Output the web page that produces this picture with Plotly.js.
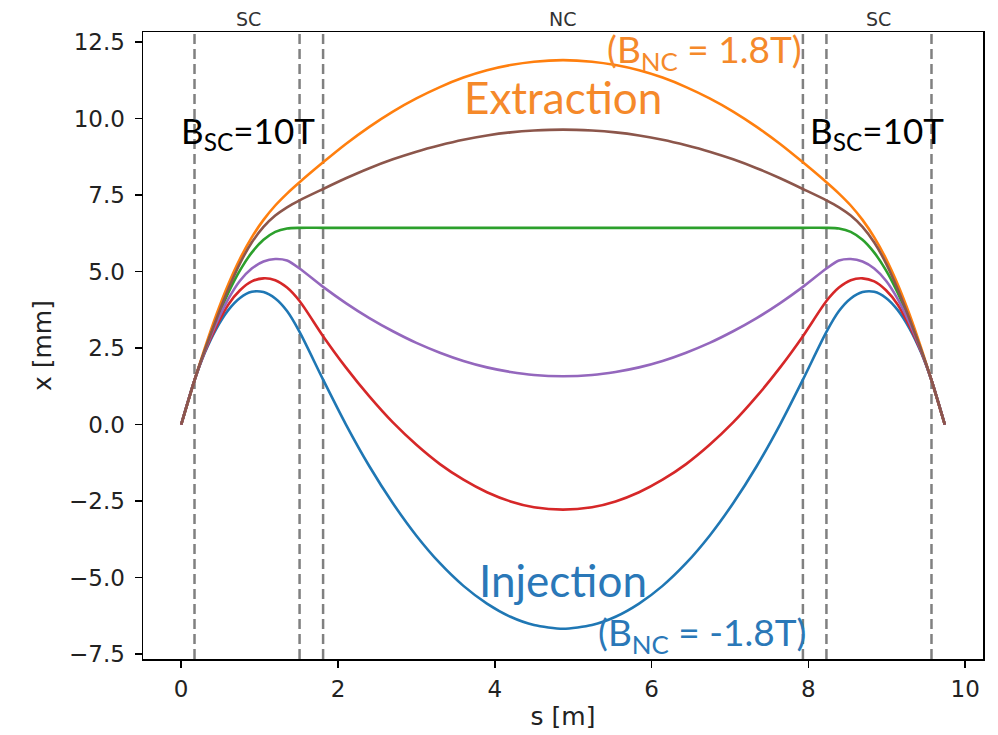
<!DOCTYPE html>
<html>
<head>
<meta charset="utf-8">
<script src="https://cdn.plot.ly/plotly-3.0.1.min.js"></script>
<style>html,body{margin:0;padding:0;background:#fff;}#chart{width:998px;height:735px;}</style>
</head>
<body>
<div id="chart"></div>
<script>
// s positions along the straight section [m]
const s_m = [0, 0.17, 0.3, 0.45, 0.6, 0.75, 0.9, 1.05, 1.2, 1.35, 1.51, 1.81, 2.1, 2.4, 2.7, 3.0, 3.3, 3.6, 3.9, 4.2, 4.5, 4.87,
             5.24, 5.54, 5.84, 6.14, 6.44, 6.74, 7.04, 7.34, 7.64, 7.93, 8.23, 8.39, 8.54, 8.69, 8.84, 8.99, 9.14, 9.29, 9.44, 9.57, 9.74];

// orbit x [mm], one series per NC field setting
const x_blue   = [0, 1.45, 2.34, 3.14, 3.74, 4.14, 4.34, 4.33, 4.12, 3.71, 3.03, 1.47, 0.01, -1.36, -2.57, -3.63, -4.53, -5.27, -5.85, -6.28, -6.55, -6.67,
                  -6.55, -6.28, -5.85, -5.27, -4.53, -3.63, -2.57, -1.36, 0.01, 1.47, 3.03, 3.71, 4.12, 4.33, 4.34, 4.14, 3.74, 3.14, 2.34, 1.45, 0];
const x_orange = [0, 1.45, 2.49, 3.60, 4.58, 5.42, 6.12, 6.69, 7.16, 7.55, 7.92, 8.57, 9.17, 9.73, 10.23, 10.66, 11.03, 11.34, 11.58, 11.75, 11.86, 11.91,
                  11.86, 11.75, 11.58, 11.34, 11.03, 10.66, 10.23, 9.73, 9.17, 8.57, 7.92, 7.55, 7.16, 6.69, 6.12, 5.42, 4.58, 3.60, 2.49, 1.45, 0];
const x_green  = [0, 1.45, 2.41, 3.40, 4.30, 5.04, 5.62, 6.04, 6.30, 6.41, 6.43, 6.43, 6.43, 6.43, 6.43, 6.43, 6.43, 6.43, 6.43, 6.43, 6.43, 6.43,
                  6.43, 6.43, 6.43, 6.43, 6.43, 6.43, 6.43, 6.43, 6.43, 6.43, 6.43, 6.41, 6.30, 6.04, 5.62, 5.04, 4.30, 3.40, 2.41, 1.45, 0];
const x_red    = [0, 1.45, 2.37, 3.22, 3.92, 4.39, 4.68, 4.78, 4.72, 4.48, 4.04, 2.89, 1.87, 0.92, 0.07, -0.66, -1.29, -1.80, -2.21, -2.51, -2.70, -2.78,
                  -2.70, -2.51, -2.21, -1.80, -1.29, -0.66, 0.07, 0.92, 1.87, 2.89, 4.04, 4.48, 4.72, 4.78, 4.68, 4.39, 3.92, 3.22, 2.37, 1.45, 0];
const x_purple = [0, 1.45, 2.39, 3.32, 4.10, 4.70, 5.10, 5.33, 5.41, 5.36, 5.10, 4.50, 3.97, 3.48, 3.05, 2.67, 2.35, 2.08, 1.87, 1.72, 1.62, 1.58,
                  1.62, 1.72, 1.87, 2.08, 2.35, 2.67, 3.05, 3.48, 3.97, 4.50, 5.10, 5.36, 5.41, 5.33, 5.10, 4.70, 4.10, 3.32, 2.39, 1.45, 0];
const x_brown  = [0, 1.45, 2.42, 3.45, 4.42, 5.27, 5.95, 6.46, 6.83, 7.10, 7.33, 7.70, 8.05, 8.38, 8.67, 8.92, 9.13, 9.31, 9.45, 9.55, 9.61, 9.64,
                  9.61, 9.55, 9.45, 9.31, 9.13, 8.92, 8.67, 8.38, 8.05, 7.70, 7.33, 7.10, 6.83, 6.46, 5.95, 5.27, 4.42, 3.45, 2.42, 1.45, 0];

// magnet boundaries [m]
const boundaries = [0.17, 1.51, 1.81, 7.93, 8.23, 9.57];
// region labels on top
const regionLabels = ["SC", "NC", "SC"];
const regionPos = [0.86, 4.86, 8.89];

const xTicks = [0, 2, 4, 6, 8, 10];
const yTicks = [-7.5, -5.0, -2.5, 0.0, 2.5, 5.0, 7.5, 10.0, 12.5];

const series = [
  {y: x_blue, color: '#1f77b4'},
  {y: x_orange, color: '#ff7f0e'},
  {y: x_green, color: '#2ca02c'},
  {y: x_red, color: '#d62728'},
  {y: x_purple, color: '#9467bd'},
  {y: x_brown, color: '#8c564b'}
];

const traces = series.map(d => ({
  x: s_m, y: d.y, type: 'scatter', mode: 'lines',
  line: {color: d.color, width: 2.6, shape: 'spline', smoothing: 0.7},
  hoverinfo: 'skip', showlegend: false
}));

const shapes = boundaries.map(b => ({
  type: 'line', xref: 'x', yref: 'paper', x0: b, x1: b, y0: 0, y1: 1,
  line: {color: '#808080', width: 2.5, dash: '10px,5px'}, layer: 'below'
}));

const annFont = 'Lato, "Open Sans", sans-serif';
const annotations = regionLabels.map((t, i) => ({
  text: t, xref: 'x', yref: 'paper', x: regionPos[i], y: 1, yanchor: 'bottom', xanchor: 'center',
  showarrow: false, yshift: 0, font: {family: 'DejaVu Sans', size: 19, color: '#333'}
})).concat([
  {text: 'B<sub>SC</sub>=10T', xref: 'x', yref: 'y', x: 0.85, y: 9.55, showarrow: false,
   font: {family: annFont, size: 35, color: '#000'}},
  {text: 'B<sub>SC</sub>=10T', xref: 'x', yref: 'y', x: 8.87, y: 9.55, showarrow: false,
   font: {family: annFont, size: 35, color: '#000'}},
  {text: 'Extraction', xref: 'x', yref: 'y', x: 4.87, y: 10.72, showarrow: false,
   font: {family: annFont, size: 44, color: '#f5892a'}},
  {text: '(B<sub>NC</sub> = 1.8T)', xref: 'x', yref: 'y', x: 6.67, y: 12.2, showarrow: false,
   font: {family: annFont, size: 37, color: '#f5892a'}},
  {text: 'Injection', xref: 'x', yref: 'y', x: 4.87, y: -5.07, showarrow: false,
   font: {family: annFont, size: 44, color: '#2a78b8'}},
  {text: '(B<sub>NC</sub> = -1.8T)', xref: 'x', yref: 'y', x: 6.64, y: -6.86, showarrow: false,
   font: {family: annFont, size: 37, color: '#2a78b8'}}
]);

const axisCommon = {
  showline: true, mirror: true, linecolor: '#000', linewidth: 1.5,
  ticks: 'outside', ticklen: 7, tickwidth: 1.5, tickcolor: '#000',
  showgrid: false, zeroline: false,
  tickfont: {family: 'DejaVu Sans', size: 23, color: '#222'}
};

const layout = {
  width: 998, height: 735,
  margin: {l: 143, r: 15, t: 32, b: 76},
  paper_bgcolor: '#fff', plot_bgcolor: '#fff',
  xaxis: Object.assign({}, axisCommon, {
    range: [-0.487, 10.227], tickvals: xTicks, ticktext: xTicks.map(String),
    ticklabelstandoff: 2,
    title: {text: 's [m]', font: {family: 'DejaVu Sans', size: 25, color: '#222'}, standoff: 6}
  }),
  yaxis: Object.assign({}, axisCommon, {
    range: [-7.66, 12.83], tickvals: yTicks, tickformat: '.1f',
    ticklabelstandoff: 5,
    title: {text: 'x [mm]', font: {family: 'DejaVu Sans', size: 25, color: '#222'}, standoff: 10}
  }),
  shapes: shapes,
  annotations: annotations,
  showlegend: false
};

Plotly.newPlot('chart', traces, layout, {displayModeBar: false, staticPlot: true});
</script>
</body>
</html>
